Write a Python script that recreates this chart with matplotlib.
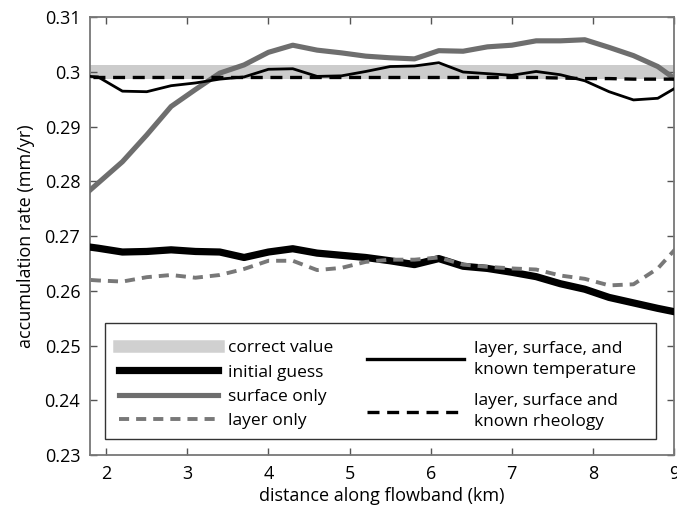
import matplotlib
matplotlib.use("Agg")
import matplotlib.pyplot as plt
from matplotlib.lines import Line2D
from matplotlib.patches import Rectangle

plt.rcParams['font.family'] = ['Open Sans', 'DejaVu Sans']

distance = [1.6, 1.9, 2.2, 2.5, 2.8, 3.1, 3.4, 3.7, 4.0, 4.3, 4.6, 4.9, 5.2,
            5.5, 5.8, 6.1, 6.4, 6.7, 7.0, 7.3, 7.6, 7.9, 8.2, 8.5, 8.8, 9.1]

correct_low, correct_high = 0.2988, 0.3012

initial_guess = [0.2684, 0.2678, 0.2671, 0.2672, 0.2675, 0.2672, 0.2671, 0.2661,
                 0.2671, 0.2677, 0.2669, 0.2665, 0.2661, 0.2655, 0.2648, 0.2659,
                 0.2645, 0.2641, 0.2634, 0.2626, 0.2613, 0.2603, 0.2588, 0.2578,
                 0.2568, 0.2559]

surface_only = [0.2758, 0.2797, 0.2836, 0.2885, 0.2937, 0.2968, 0.2998, 0.3013,
                0.3036, 0.3049, 0.3040, 0.3035, 0.3029, 0.3026, 0.3024, 0.3039,
                0.3038, 0.3046, 0.3049, 0.3057, 0.3057, 0.3059, 0.3045, 0.3030,
                0.3010, 0.2978]

layer_only = [0.2622, 0.2619, 0.2617, 0.2625, 0.2629, 0.2624, 0.2629, 0.2640,
              0.2655, 0.2655, 0.2638, 0.2642, 0.2653, 0.2657, 0.2657, 0.2661,
              0.2648, 0.2644, 0.2641, 0.2639, 0.2628, 0.2622, 0.2610, 0.2612,
              0.2641, 0.2690]

known_temperature = [0.2994, 0.2991, 0.2965, 0.2964, 0.2975, 0.2980, 0.2987, 0.2991,
                     0.3005, 0.3006, 0.2992, 0.2993, 0.3001, 0.3010, 0.3011, 0.3017,
                     0.3000, 0.2997, 0.2994, 0.3001, 0.2995, 0.2984, 0.2964, 0.2949,
                     0.2952, 0.2978]

known_rheology = [0.2990, 0.2990, 0.2990, 0.2990, 0.2990, 0.2990, 0.2990, 0.2990,
                  0.2990, 0.2990, 0.2990, 0.2990, 0.2990, 0.2990, 0.2990, 0.2990,
                  0.2990, 0.2990, 0.2990, 0.2990, 0.2989, 0.2988, 0.2988, 0.2987,
                  0.2987, 0.2987]

labels_left = ['correct value', 'initial guess', 'surface only', 'layer only']
labels_right = ['layer, surface, and\nknown temperature',
                'layer, surface and\nknown rheology']

fig = plt.figure(figsize=(6.77, 5.09), dpi=100)
ax = fig.add_axes([0.1329, 0.1061, 0.8627, 0.8599])

band_color = '#cccccc'
gray1 = '#6e6e6e'
gray2 = '#787878'

ax.axhspan(correct_low, correct_high, color=band_color, lw=0, zorder=1)
ax.plot(distance, initial_guess, color='black', lw=5.2, solid_joinstyle='round', zorder=3)
ax.plot(distance, surface_only, color=gray1, lw=3.7, zorder=3)
ax.plot(distance, layer_only, color=gray2, lw=2.8, dashes=(2.6, 1.8), zorder=3)
ax.plot(distance, known_rheology, color='black', lw=2.4, dashes=(3.6, 2.3), zorder=4)
ax.plot(distance, known_temperature, color='black', lw=2.0, zorder=5)

ax.set_xlim(1.8, 9.0)
ax.set_ylim(0.23, 0.31)
ax.set_xticks([2, 3, 4, 5, 6, 7, 8, 9])
ax.set_xticklabels(['2', '3', '4', '5', '6', '7', '8', '9'])
ax.set_yticks([0.23, 0.24, 0.25, 0.26, 0.27, 0.28, 0.29, 0.30, 0.31])
ax.set_yticklabels(['0.23', '0.24', '0.25', '0.26', '0.27', '0.28', '0.29', '0.3', '0.31'])
ax.tick_params(direction='in', length=5, width=1, color='#555555',
               top=True, right=True, labelsize=13, pad=7)
for s in ax.spines.values():
    s.set_color('#777777')
    s.set_linewidth(1.3)

ax.set_xlabel('distance along flowband (km)', fontsize=13, labelpad=3)
ax.set_ylabel('accumulation rate (mm/yr)', fontsize=13, labelpad=7)

# legend frame
ax.add_patch(Rectangle((0.0265, 0.036), 0.942, 0.266, transform=ax.transAxes,
                       facecolor='white', edgecolor='#333333', lw=1.0, zorder=6))

h_left = [Line2D([], [], color='#d0d0d0', lw=9),
          Line2D([], [], color='black', lw=5.2),
          Line2D([], [], color=gray1, lw=3.7),
          Line2D([], [], color=gray2, lw=2.8, dashes=(2.6, 1.8))]
h_right = [Line2D([], [], color='black', lw=2.4),
           Line2D([], [], color='black', lw=2.4, dashes=(3.6, 2.3))]

fs = 12.5
leg1 = ax.legend(h_left, labels_left, loc='upper left',
                 bbox_to_anchor=(0.0497, 0.263), frameon=False, fontsize=fs,
                 handlelength=5.7, handletextpad=0.58, labelspacing=0.48,
                 borderaxespad=0, borderpad=0)
leg1.set_zorder(7)
ax.add_artist(leg1)
leg2 = ax.legend(h_right, labels_right, loc='upper left',
                 bbox_to_anchor=(0.474, 0.261), frameon=False, fontsize=fs,
                 handlelength=5.6, handletextpad=0.6, labelspacing=0.85,
                 borderaxespad=0, borderpad=0)
for t in leg2.get_texts():
    t.set_linespacing(1.45)
leg2.set_zorder(7)

fig.savefig('out.png', dpi=100)
